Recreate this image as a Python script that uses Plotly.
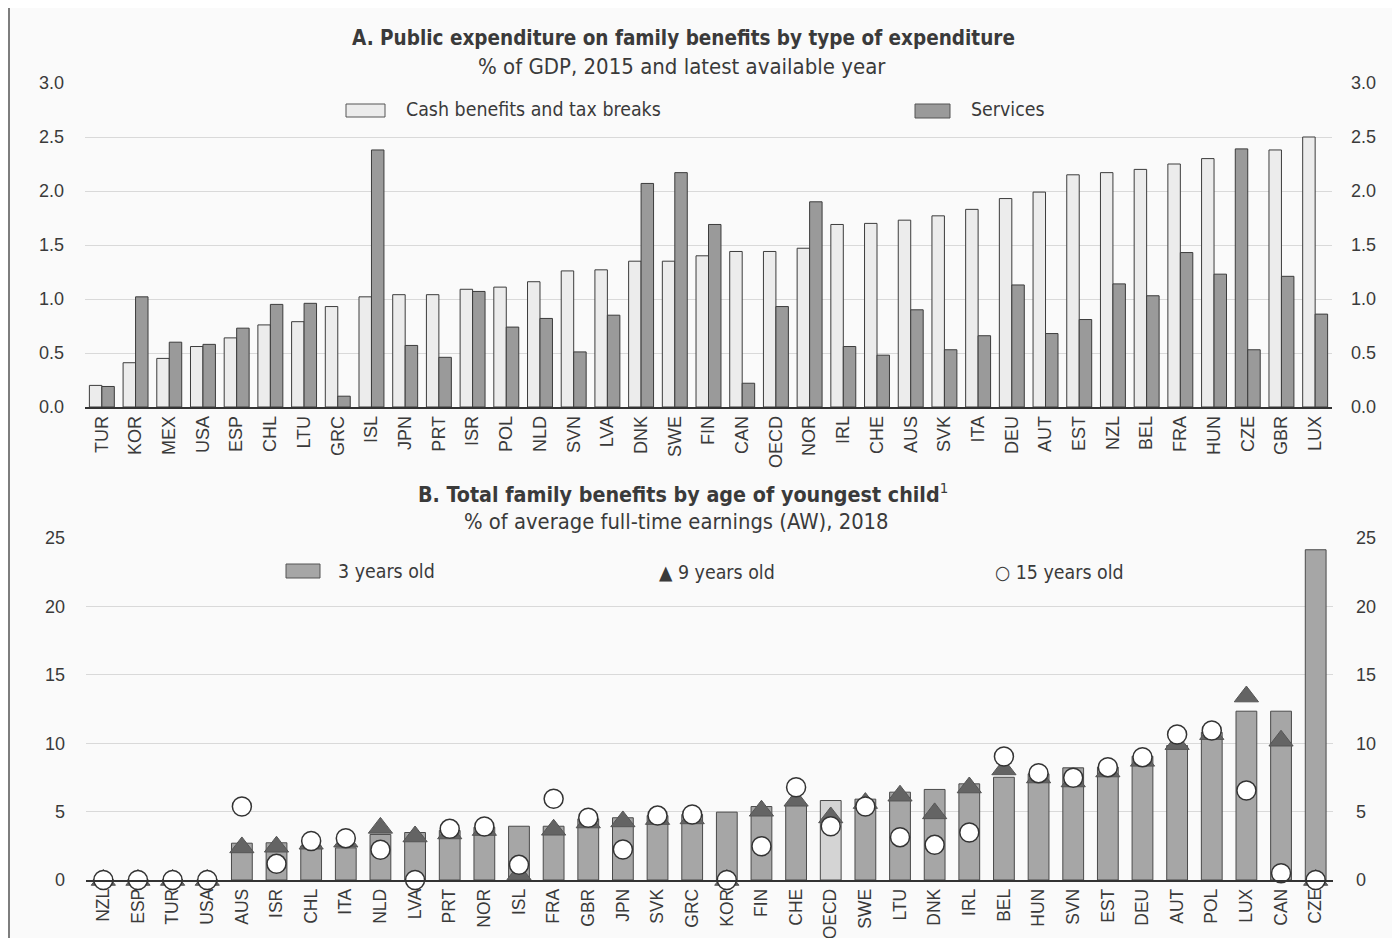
import plotly.graph_objects as go

# ---------------- Panel A data ----------------
a_countries = ["TUR", "KOR", "MEX", "USA", "ESP", "CHL", "LTU", "GRC", "ISL", "JPN", "PRT", "ISR",
               "POL", "NLD", "SVN", "LVA", "DNK", "SWE", "FIN", "CAN", "OECD", "NOR", "IRL", "CHE",
               "AUS", "SVK", "ITA", "DEU", "AUT", "EST", "NZL", "BEL", "FRA", "HUN", "CZE", "GBR", "LUX"]
a_cash = [0.20, 0.41, 0.45, 0.56, 0.64, 0.76, 0.79, 0.93, 1.02, 1.04, 1.04, 1.09,
          1.11, 1.16, 1.26, 1.27, 1.35, 1.35, 1.40, 1.44, 1.44, 1.47, 1.69, 1.70,
          1.73, 1.77, 1.83, 1.93, 1.99, 2.15, 2.17, 2.20, 2.25, 2.30, 2.39, 2.38, 2.50]
a_services = [0.19, 1.02, 0.60, 0.58, 0.73, 0.95, 0.96, 0.10, 2.38, 0.57, 0.46, 1.07,
              0.74, 0.82, 0.51, 0.85, 2.07, 2.17, 1.69, 0.22, 0.93, 1.90, 0.56, 0.48,
              0.90, 0.53, 0.66, 1.13, 0.68, 0.81, 1.14, 1.03, 1.43, 1.23, 0.53, 1.21, 0.86]
a_ticks = [0.0, 0.5, 1.0, 1.5, 2.0, 2.5, 3.0]

# ---------------- Panel B data ----------------
b_countries = ["NZL", "ESP", "TUR", "USA", "AUS", "ISR", "CHL", "ITA", "NLD", "LVA", "PRT", "NOR",
               "ISL", "FRA", "GBR", "JPN", "SVK", "GRC", "KOR", "FIN", "CHE", "OECD", "SWE", "LTU",
               "DNK", "IRL", "BEL", "HUN", "SVN", "EST", "DEU", "AUT", "POL", "LUX", "CAN", "CZE"]
b_age3 = [0.0, 0.0, 0.0, 0.0, 2.69, 2.72, 2.49, 2.35, 3.33, 3.47, 3.62, 3.86,
          3.93, 3.93, 4.47, 4.55, 4.71, 4.79, 4.96, 5.37, 5.52, 5.81, 5.91, 6.42,
          6.62, 7.03, 7.51, 7.76, 8.20, 8.25, 9.05, 9.83, 10.80, 12.34, 12.34, 24.14]
b_age9 = [0.0, 0.0, 0.0, 0.0, 2.38, 2.43, 2.65, 2.80, 3.81, 3.18, 3.40, 3.65,
          0.40, 3.67, 4.20, 4.28, 4.45, 4.50, 0.0, 5.06, 5.79, 4.57, 5.62, 6.16,
          4.87, 6.76, 8.08, 7.49, 7.20, 7.93, 8.71, 9.93, 10.66, 13.41, 10.18, 0.0]
b_age15 = [0.0, 0.0, 0.0, 0.0, 5.37, 1.18, 2.85, 3.06, 2.21, 0.0, 3.74, 3.91,
           1.11, 5.94, 4.55, 2.23, 4.71, 4.79, 0.0, 2.47, 6.78, 3.93, 5.37, 3.13,
           2.57, 3.47, 9.03, 7.81, 7.47, 8.25, 8.98, 10.64, 10.93, 6.54, 0.50, 0.0]
b_ticks = [0, 5, 10, 15, 20, 25]

# ---------------- styles ----------------
TXT = "#3a3a3a"
NARROW = "Liberation Sans Narrow, Arial Narrow, DejaVu Sans Condensed, Liberation Sans, sans-serif"
REG = "Liberation Sans, Arial, sans-serif"
LIGHT = "#ececec"
DARK = "#9a9a9a"
EDGE = "#3c3c3c"
BFILL = "#a6a6a6"

cash_colors = [DARK if c == "CZE" else LIGHT for c in a_countries]
b_colors = ["#d4d4d4" if c == "OECD" else BFILL for c in b_countries]

# page has an 8px body margin: figure is sized so it fits the 1400x938 window
OFF = 8.0
W = 1400.0 - OFF
H = 938.0 - OFF


def px(p):
    return (p - OFF) / W


def py(p):
    return 1 - (p - OFF) / H


fig = go.Figure()

fig.add_trace(go.Bar(x=a_countries, y=a_cash, name="Cash benefits and tax breaks",
                     marker=dict(color=cash_colors, line=dict(color=EDGE, width=1)),
                     xaxis="x", yaxis="y", showlegend=False))
fig.add_trace(go.Bar(x=a_countries, y=a_services, name="Services",
                     marker=dict(color=DARK, line=dict(color=EDGE, width=1)),
                     xaxis="x", yaxis="y", showlegend=False))
fig.add_trace(go.Scatter(x=a_countries, y=a_cash, mode="markers", marker=dict(opacity=0, size=1),
                         xaxis="x", yaxis="y3", showlegend=False, hoverinfo="skip"))

fig.add_trace(go.Bar(x=b_countries, y=b_age3, name="3 years old", width=0.6,
                     marker=dict(color=b_colors, line=dict(color="#4a4a4a", width=1)),
                     xaxis="x2", yaxis="y2", showlegend=False))
fig.add_trace(go.Scatter(x=b_countries, y=b_age9, name="9 years old", mode="markers",
                         marker=dict(symbol="triangle-up", size=21, color="#646464",
                                     line=dict(color="#555555", width=1)),
                         xaxis="x2", yaxis="y2", cliponaxis=False, showlegend=False))
fig.add_trace(go.Scatter(x=b_countries, y=b_age15, name="15 years old", mode="markers",
                         marker=dict(symbol="circle", size=19, color="#ffffff",
                                     line=dict(color="#333333", width=1.5)),
                         xaxis="x2", yaxis="y2", cliponaxis=False, showlegend=False))
fig.add_trace(go.Scatter(x=b_countries, y=b_age3, mode="markers", marker=dict(opacity=0, size=1),
                         xaxis="x2", yaxis="y4", showlegend=False, hoverinfo="skip"))

tickfont = dict(family=REG, size=18, color=TXT)
catfont_a = dict(family=REG, size=18, color=TXT)
catfont_b = dict(family=REG, size=17.5, color=TXT)

fig.update_layout(
    width=int(W), height=int(H),
    margin=dict(l=0, r=0, t=0, b=0, autoexpand=False),
    paper_bgcolor="#fafafa", plot_bgcolor="rgba(0,0,0,0)",
    barmode="group", bargap=0.26, bargroupgap=0.0,
    xaxis=dict(domain=[px(85), px(1332)], anchor="y", type="category",
               range=[-0.5, len(a_countries) - 0.5], automargin=False,
               tickangle=-90, tickfont=catfont_a, showgrid=False, ticks="",
               showline=True, linecolor="#333333", linewidth=1.5,
               ticklabelstandoff=0),
    yaxis=dict(domain=[py(407), py(83)], anchor="x", range=[0, 3.0], automargin=False,
               tickvals=a_ticks, ticktext=[f"{v:.1f}" for v in a_ticks],
               tickfont=tickfont, showgrid=True, gridcolor="#d9d9d9", gridwidth=1,
               zeroline=False, ticks="", ticklabelstandoff=20),
    yaxis3=dict(overlaying="y", side="right", anchor="x", range=[0, 3.0], automargin=False,
                tickvals=a_ticks, ticktext=[f"{v:.1f}" for v in a_ticks],
                tickfont=tickfont, showgrid=False, zeroline=False, ticks="",
                ticklabelstandoff=18),
    xaxis2=dict(domain=[px(86), px(1333)], anchor="y2", type="category",
                range=[-0.5, len(b_countries) - 0.5], automargin=False,
                tickangle=-90, tickfont=catfont_b, showgrid=False, ticks="",
                showline=True, linecolor="#333333", linewidth=1.5,
                ticklabelstandoff=0),
    yaxis2=dict(domain=[py(880), py(538)], anchor="x2", range=[0, 25], automargin=False,
                tickvals=b_ticks, tickfont=tickfont, showgrid=True, gridcolor="#d9d9d9",
                gridwidth=1, zeroline=False, ticks="", ticklabelstandoff=20),
    yaxis4=dict(overlaying="y2", side="right", anchor="x2", range=[0, 25], automargin=False,
                tickvals=b_ticks, tickfont=tickfont, showgrid=False, zeroline=False,
                ticks="", ticklabelstandoff=22),
)

# titles
ann = [
    dict(text="<b>A. Public expenditure on family benefits by type of expenditure</b>",
         x=px(683), y=py(38), font=dict(family=NARROW, size=20.5, color=TXT)),
    dict(text="% of GDP, 2015 and latest available year",
         x=px(682), y=py(66), font=dict(family=NARROW, size=22, color=TXT)),
    dict(text="<b>B. Total family benefits by age of youngest child</b><sup>1</sup>",
         x=px(683), y=py(493), font=dict(family=NARROW, size=21.3, color=TXT)),
    dict(text="% of average full-time earnings (AW), 2018",
         x=px(676), y=py(521), font=dict(family=NARROW, size=21.8, color=TXT)),
]
for a in ann:
    fig.add_annotation(xref="paper", yref="paper", showarrow=False, xanchor="center",
                       yanchor="middle", **a)

# legends
leg_items = [
    ("Cash benefits and tax breaks", 404, 110),
    ("Services", 969, 110),
    ("3 years old", 336, 571),
    ("▲ 9 years old", 657, 572),
    ("○ 15 years old", 993, 572),
]
for t, x0, y0 in leg_items:
    fig.add_annotation(xref="paper", yref="paper", x=px(x0), y=py(y0), text=t,
                       showarrow=False, xanchor="left", yanchor="middle",
                       font=dict(family=NARROW, size=19.4, color=TXT))
swatches = [(346, 104, 385, 117, LIGHT), (915, 104, 950, 118, DARK),
            (286, 564, 320, 578, BFILL)]
for x0, y0, x1, y1, col in swatches:
    fig.add_shape(type="rect", xref="paper", yref="paper",
                  x0=px(x0), x1=px(x1), y0=py(y1), y1=py(y0),
                  fillcolor=col, line=dict(color="#555555", width=1))

# scan border line on the left
fig.add_shape(type="line", xref="paper", yref="paper", x0=px(9), x1=px(9), y0=0, y1=1,
              line=dict(color="#555555", width=1.5))

fig.write_html("out.html")
